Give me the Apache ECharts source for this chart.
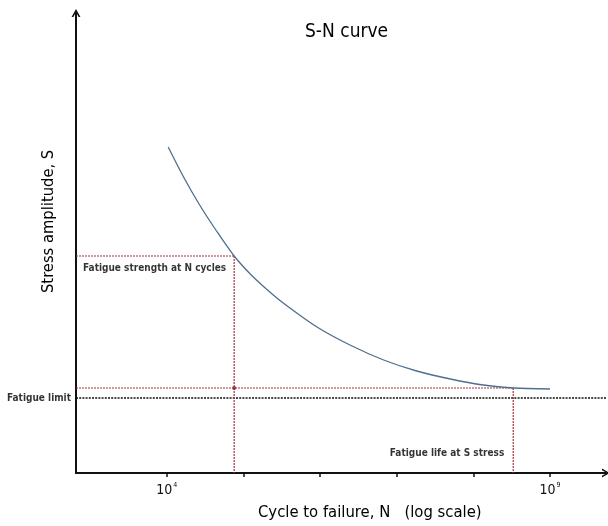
<!DOCTYPE html>
<html>
<head>
<meta charset="utf-8">
<script src="https://cdn.jsdelivr.net/npm/echarts@6/dist/echarts.min.js"></script>
<style>html,body{margin:0;padding:0;background:#fff}#c{width:608px;height:526px}</style>
</head>
<body>
<div id="c"></div>
<script>
// log10(N) of the curve points and stress amplitude (arbitrary units)
const curveLogN = [4.02, 4.22, 4.43, 4.65, 4.88, 5.09, 5.30, 5.52, 5.96, 6.39, 6.83, 7.26, 7.70, 8.13, 8.52, 9.00];
const curveS    = [326, 296, 268, 242, 217, 199, 184, 170, 146, 128, 113, 102, 94, 88, 85, 84];
const strengthLogN = 4.88;   // N cycles
const strengthS = 217;       // fatigue strength at N cycles
const lifeLogN = 8.52;       // fatigue life at S stress
const lifeS = 85;            // stress S
const fatigueLimit = 75;
const tickExponents = [4, 5, 6, 7, 8, 9];
const labelExponents = [4, 9];
const xMin = 2.817, xMax = 9.73, yMin = 0, yMax = 460;

const FONT = '"DejaVu Sans Condensed","Liberation Sans Narrow",sans-serif';
const RED = '#a5323e';
const ARROW = 'path://M0,9 L5,0 L10,9 L8,9 L5,3.6 L2,9 Z';

const curve = curveLogN.map((x, i) => [x, curveS[i]]);
const dotted = (color, w, t) => ({ color: color, width: w, type: t });

const chart = echarts.init(document.getElementById('c'));
chart.setOption({
  animation: false,
  grid: { left: 76, right: 2, top: 13, bottom: 53 },
  xAxis: {
    type: 'value', min: xMin, max: xMax,
    axisLine: { lineStyle: { color: '#111', width: 2 }, symbol: ['none', ARROW], symbolSize: [10, 8], symbolOffset: [0, 0] },
    axisTick: { show: true, customValues: tickExponents, length: 4, lineStyle: { color: '#111', width: 1.5 } },
    axisLabel: {
      customValues: labelExponents, margin: 9,
      formatter: v => '{b|10}{s|' + v + '}',
      rich: {
        b: { fontFamily: FONT, fontSize: 14, color: '#111' },
        s: { fontFamily: FONT, fontSize: 7, color: '#111', padding: [0, 0, 9, 1] }
      }
    },
    splitLine: { show: false }
  },
  yAxis: {
    type: 'value', min: yMin, max: yMax,
    axisLine: { show: true, lineStyle: { color: '#111', width: 2 }, symbol: ['none', ARROW], symbolSize: [10, 8], symbolOffset: [0, 0] },
    axisTick: { show: false }, axisLabel: { show: false }, splitLine: { show: false }
  },
  graphic: [
    { type: 'text', left: 305, top: 23, style: { text: 'S-N curve', fontFamily: FONT, fontSize: 19, fill: '#000' } },
    { type: 'text', left: 258, top: 504, style: { text: 'Cycle to failure, N   (log scale)', fontFamily: FONT, fontSize: 16.5, fill: '#000' } },
    { type: 'text', x: 41, y: 293, rotation: Math.PI / 2, style: { text: 'Stress amplitude, S', fontFamily: FONT, fontSize: 16.4, fill: '#000', textAlign: 'left', textVerticalAlign: 'top' } }
  ],
  series: [
    { type: 'line', data: [[xMin, fatigueLimit], [xMax, fatigueLimit]], symbol: 'none', lineStyle: dotted('#111', 1.6, [2, 1.2]), z: 2 },
    { type: 'line', data: [[xMin, strengthS], [strengthLogN, strengthS]], symbol: 'none', lineStyle: dotted(RED, 1.2, [2, 1]), z: 2 },
    { type: 'line', data: [[strengthLogN, strengthS], [strengthLogN, yMin]], symbol: 'none', lineStyle: dotted(RED, 1.2, [2, 1]), z: 2 },
    { type: 'line', data: [[xMin, lifeS], [lifeLogN, lifeS]], symbol: 'none', lineStyle: dotted(RED, 1.2, [2, 1]), z: 2 },
    { type: 'line', data: [[lifeLogN, lifeS], [lifeLogN, yMin]], symbol: 'none', lineStyle: dotted(RED, 1.2, [2, 1]), z: 2 },
    { type: 'line', data: curve, smooth: 0.3, symbol: 'none', lineStyle: { color: '#4f6f8f', width: 1.3 }, z: 3 },
    { type: 'scatter', data: [[strengthLogN, lifeS]], symbolSize: 4, itemStyle: { color: '#8e1f2b' }, z: 4 },
    { type: 'scatter', symbolSize: 0, z: 5, silent: true,
      data: [
        { value: [xMin, fatigueLimit], label: { show: true, position: 'left', distance: 5, formatter: 'Fatigue limit' } },
        { value: [xMin, strengthS], label: { show: true, position: 'right', distance: 7, offset: [0, 12], formatter: 'Fatigue strength at N cycles' } },
        { value: [lifeLogN, 20], label: { show: true, position: 'left', distance: 9, formatter: 'Fatigue life at S stress' } }
      ],
      label: { fontFamily: FONT, fontSize: 10, fontWeight: 'bold', color: '#000' }
    }
  ]
});
</script>
</body>
</html>
